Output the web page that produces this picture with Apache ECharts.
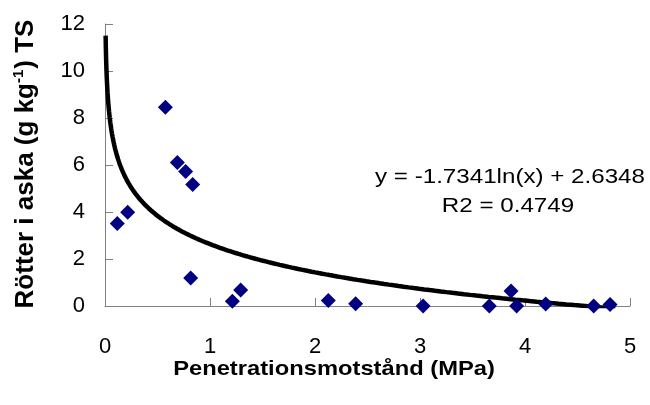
<!DOCTYPE html>
<html>
<head>
<meta charset="utf-8">
<script src="https://cdn.jsdelivr.net/npm/echarts@6/dist/echarts.min.js"></script>
<style>html,body{margin:0;padding:0;background:#fff}#c{width:650px;height:405px}</style>
</head>
<body>
<div id="c"></div>
<script>
const xValues = [0.117, 0.216, 0.575, 0.689, 0.768, 0.835, 0.816, 1.213, 1.292, 2.127, 2.387, 3.03, 3.66, 3.867, 3.92, 4.197, 4.654, 4.81];
const yValues = [3.51, 3.99, 8.46, 6.11, 5.72, 5.17, 1.19, 0.20, 0.68, 0.23, 0.10, 0.00, 0.00, 0.64, 0.00, 0.09, 0.00, 0.06];
const trendA = -1.7341;
const trendB = 2.6348;
const trendXStart = 0.006;
const trendXEnd = 4.86;
const xTicks = [0, 1, 2, 3, 4, 5];
const yTicks = [0, 2, 4, 6, 8, 10, 12];
const xTitle = 'Penetrationsmotstånd (MPa)';
const yTitleA = 'Rötter i aska (g kg';
const yTitleSup = '-1';
const yTitleB = ') TS';
const eqText = 'y = -1.7341ln(x) + 2.6348';
const r2Text = 'R2 = 0.4749';

const points = xValues.map((x, i) => [x, yValues[i]]);
// trendline from the displayed equation
const trend = [];
const nT = 400;
for (let i = 0; i <= nT; i++) {
  const t = i / nT;
  const x = Math.exp(Math.log(trendXStart) + t * (Math.log(trendXEnd) - Math.log(trendXStart)));
  trend.push([x, trendA * Math.log(x) + trendB]);
}

const font = '"Liberation Sans", Arial, sans-serif';
const chart = echarts.init(document.getElementById('c'), null, {renderer: 'canvas'});
chart.setOption({
  animation: false,
  grid: {left: 105, right: 20, top: 24, bottom: 99, containLabel: false},
  xAxis: {
    type: 'value', min: xTicks[0], max: xTicks[xTicks.length - 1], interval: 1,
    axisLine: {show: true, onZero: false, lineStyle: {color: '#808080', width: 1}},
    axisTick: {show: true, inside: true, length: 8, lineStyle: {color: '#808080'}},
    splitLine: {show: false},
    axisLabel: {fontFamily: font, fontSize: 22, color: '#000', margin: 30}
  },
  yAxis: {
    type: 'value', min: yTicks[0], max: yTicks[yTicks.length - 1], interval: 2,
    axisLine: {show: true, onZero: false, lineStyle: {color: '#808080', width: 1}},
    axisTick: {show: true, inside: true, length: 8, lineStyle: {color: '#808080'}},
    splitLine: {show: false},
    axisLabel: {fontFamily: font, fontSize: 22, color: '#000', margin: 20}
  },
  graphic: [
    {type: 'text', x: 510, y: 177, scaleX: 1.15,
     style: {text: eqText, fontFamily: font, fontSize: 21, fill: '#000', textAlign: 'center', textVerticalAlign: 'middle'}},
    {type: 'text', x: 508, y: 206, scaleX: 1.15,
     style: {text: r2Text, fontFamily: font, fontSize: 21, fill: '#000', textAlign: 'center', textVerticalAlign: 'middle'}},
    {type: 'text', x: 334, y: 369, scaleX: 1.13,
     style: {text: xTitle, fontFamily: font, fontSize: 21, fontWeight: 'bold', fill: '#000', textAlign: 'center', textVerticalAlign: 'middle'}},
    {type: 'text', x: 26, y: 164, rotation: Math.PI / 2,
     style: {
       text: '{a|' + yTitleA + '}{s|' + yTitleSup + '}{a|' + yTitleB + '}',
       textAlign: 'center', textVerticalAlign: 'middle',
       rich: {
         a: {fontFamily: font, fontSize: 26, fontWeight: 'bold', fill: '#000', lineHeight: 30},
         s: {fontFamily: font, fontSize: 15, fontWeight: 'bold', fill: '#000', verticalAlign: 'top', lineHeight: 30, padding: [0, 1, 12, 0]}
       }
     }}
  ],
  series: [
    {
      type: 'line', data: trend, showSymbol: false, symbol: 'none', smooth: false,
      lineStyle: {color: '#000', width: 4.5}, z: 2
    },
    {
      type: 'scatter', data: points, symbol: 'diamond', symbolSize: [15, 15],
      itemStyle: {color: '#000080', opacity: 1}, z: 3
    }
  ]
});
</script>
</body>
</html>
